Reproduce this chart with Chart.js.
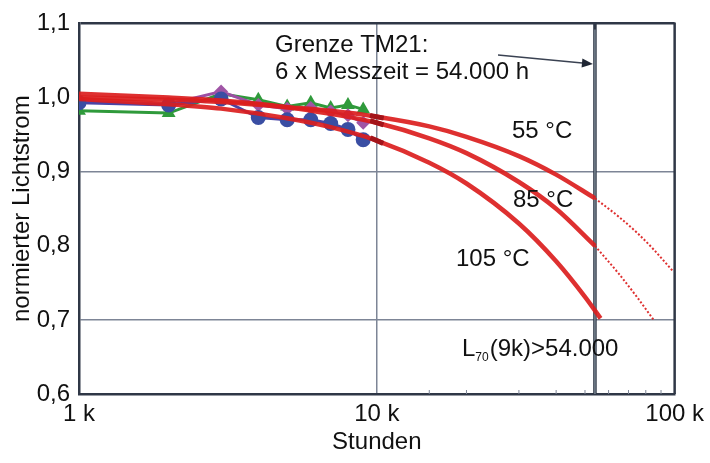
<!DOCTYPE html>
<html><head><meta charset="utf-8">
<script src="https://cdn.jsdelivr.net/npm/chart.js@4"></script>
<style>html,body{margin:0;padding:0;background:#fff}#wrap{width:710px;height:463px;position:relative}canvas{display:block}</style>
</head><body><div id="wrap"><canvas id="c" width="710" height="463"></canvas></div>
<script>
// Measured relative luminous flux (normalised) over operating hours
const hours = [1000, 2000, 3000, 4000, 5000, 6000, 7000, 8000, 9000];
const blueValues   = [0.993, 0.990, 0.998, 0.973, 0.970, 0.970, 0.965, 0.957, 0.943];
const greenValues  = [0.982, 0.979, 1.005, 0.997, 0.988, 0.993, 0.986, 0.990, 0.984];
const purpleValues = [0.995, 0.991, 1.008, 0.990, 0.985, 0.986, 0.981, 0.976, 0.966];

// TM-21 projections (solid = within 6x test time, dotted = beyond)
const fitHours    = [1000, 2000, 3000, 5000, 7000, 10000, 15000, 20000, 30000, 40000, 54000];
const fit55       = [1.000, 0.997, 0.994, 0.987, 0.982, 0.974, 0.961, 0.947, 0.921, 0.896, 0.864];
const fit85       = [1.005, 1.000, 0.996, 0.987, 0.978, 0.966, 0.945, 0.925, 0.886, 0.850, 0.800];
const fit105Hours = [1000, 2000, 3000, 5000, 7000, 10000, 15000, 20000, 30000, 40000, 50000, 56400];
const fit105      = [0.998, 0.991, 0.985, 0.972, 0.960, 0.942, 0.912, 0.884, 0.830, 0.779, 0.731, 0.702];
const ext55Hours  = [54000, 65000, 75000, 85000, 98500];
const ext55       = [0.864, 0.839, 0.817, 0.795, 0.766];
const ext85Hours  = [54000, 65000, 75000, 85000];
const ext85       = [0.800, 0.762, 0.730, 0.700];
const markHours   = [10000, 10000, 10000];
const markValues  = [0.974, 0.966, 0.942];

const xTickLabels = {1000: '1 k', 10000: '10 k', 100000: '100 k'};
const yTicks = [0.6, 0.7, 0.8, 0.9, 1.0, 1.1];
const measureLimit = 54000;

const pts = (xs, ys) => xs.map((x, i) => ({x, y: ys[i]}));
const FONT = '"Liberation Sans", Arial, sans-serif';
const RED = 'rgba(219,30,30,0.92)';
const DARK = '#2f3746';
const GRID = '#7d8596';

Chart.defaults.font.family = FONT;
Chart.defaults.color = '#111';

const near = (a, b) => Math.abs(a - b) < 1e-6;

const extras = {
  id: 'extras',
  beforeDatasetsDraw(chart) {
    const {ctx, chartArea: a, scales: {x}} = chart;
    ctx.save();
    // minor tick marks in the upper decade
    ctx.strokeStyle = GRID; ctx.lineWidth = 1;
    x.ticks.forEach(t => {
      if (t.value > 10000 && t.value < 100000) {
        const px = x.getPixelForValue(t.value);
        ctx.beginPath(); ctx.moveTo(px, a.bottom); ctx.lineTo(px, a.bottom - 4); ctx.stroke();
      }
    });
    // right frame edge
    const rx = x.getPixelForValue(100000);
    ctx.strokeStyle = DARK; ctx.lineWidth = 2.5;
    ctx.beginPath(); ctx.moveTo(rx, a.top - 1); ctx.lineTo(rx, a.bottom); ctx.stroke();
    // TM21 limit line
    const lx = x.getPixelForValue(measureLimit);
    ctx.strokeStyle = DARK; ctx.lineWidth = 3.5;
    ctx.beginPath(); ctx.moveTo(lx, a.top - 1); ctx.lineTo(lx, a.bottom); ctx.stroke();
    ctx.strokeStyle = '#8a97a2'; ctx.lineWidth = 1.2;
    ctx.beginPath(); ctx.moveTo(lx, a.top + 6); ctx.lineTo(lx, a.bottom); ctx.stroke();
    ctx.restore();
  },
  afterDraw(chart) {
    const {ctx, scales: {x}} = chart;
    ctx.save();
    ctx.fillStyle = '#111';
    ctx.textBaseline = 'alphabetic';
    ctx.font = '24px ' + FONT;
    ctx.fillText('Grenze TM21:', 275, 52);
    ctx.fillText('6 x Messzeit = 54.000 h', 275, 79);
    ctx.fillText('55 °C', 512, 138);
    ctx.fillText('85 °C', 513, 207);
    ctx.fillText('105 °C', 456, 266);
    // L70 label with subscript
    let px = 462;
    ctx.fillText('L', px, 356); px += ctx.measureText('L').width;
    ctx.font = '12px ' + FONT;
    ctx.fillText('70', px, 361); px += ctx.measureText('70').width + 1;
    ctx.font = '24px ' + FONT;
    ctx.fillText('(9k)>54.000', px, 356);
    // arrow pointing to the limit line
    const ex = x.getPixelForValue(measureLimit) - 2, ey = 64, sx = 498, sy = 55;
    ctx.strokeStyle = '#3a4252'; ctx.fillStyle = '#1f2633'; ctx.lineWidth = 1.5;
    ctx.beginPath(); ctx.moveTo(sx, sy); ctx.lineTo(ex - 8, ey - 0.8); ctx.stroke();
    const ang = Math.atan2(ey - sy, ex - sx);
    ctx.beginPath();
    ctx.moveTo(ex, ey);
    ctx.lineTo(ex - 11 * Math.cos(ang) + 4.5 * Math.sin(ang), ey - 11 * Math.sin(ang) - 4.5 * Math.cos(ang));
    ctx.lineTo(ex - 11 * Math.cos(ang) - 4.5 * Math.sin(ang), ey - 11 * Math.sin(ang) + 4.5 * Math.cos(ang));
    ctx.closePath(); ctx.fill();
    ctx.restore();
  }
};

const measured = (data, color, lineColor, style, radius) => ({
  data, borderColor: lineColor, backgroundColor: color, borderWidth: 3,
  pointStyle: style, pointRadius: radius, pointBorderWidth: 0, pointBackgroundColor: color,
  order: 3, tension: 0
});
const fit = (data, dashed) => ({
  data, borderColor: RED, borderWidth: dashed ? 2 : 4.5, borderDash: dashed ? [2, 2] : [],
  pointRadius: 0, cubicInterpolationMode: 'monotone', order: 1
});

new Chart(document.getElementById('c'), {
  type: 'line',
  data: {
    datasets: [
      measured(pts(hours, blueValues), '#3a4ea3', '#4a44a6', 'circle', 7.5),
      measured(pts(hours, purpleValues), '#a055a6', '#9c4fa3', 'rectRot', 7),
      measured(pts(hours, greenValues), '#2f9a3b', '#2f9a3b', 'triangle', 8),
      fit(pts(fitHours, fit55), false),
      fit(pts(fitHours, fit85), false),
      fit(pts(fit105Hours, fit105), false),
      fit(pts(ext55Hours, ext55), true),
      fit(pts(ext85Hours, ext85), true),
      {
        data: pts(markHours, markValues), showLine: false, order: 0,
        pointStyle: 'line', pointRadius: 7, pointBorderWidth: 5,
        pointBorderColor: '#a3141a', pointRotation: [11, 17, 24]
      }
    ]
  },
  options: {
    responsive: false, animation: false, devicePixelRatio: 1,
    layout: {padding: {top: 21, right: 35, left: 0, bottom: 0}},
    plugins: {legend: {display: false}, tooltip: {enabled: false}},
    scales: {
      x: {
        type: 'logarithmic', min: 1000, max: 100000,
        afterFit: s => { s.height = 69; },
        border: {color: DARK, width: 2.5},
        grid: {
          drawTicks: false,
          color: c => near(c.tick.value, 10000) ? GRID : 'rgba(0,0,0,0)',
          lineWidth: 1.5
        },
        ticks: {
          autoSkip: false, maxRotation: 0, padding: 6,
          font: {size: 24},
          callback: v => xTickLabels[v] || ''
        },
        title: {display: true, text: 'Stunden', font: {size: 24}, padding: {top: 0, bottom: 6}}
      },
      y: {
        min: 0.6, max: 1.1,
        afterFit: s => { s.width = 79; },
        afterBuildTicks: s => { s.ticks = yTicks.map(v => ({value: v})); },
        border: {color: DARK, width: 2.5},
        grid: {
          drawTicks: false,
          color: c => (near(c.tick.value, 0.9) || near(c.tick.value, 0.7)) ? GRID : near(c.tick.value, 1.1) ? DARK : 'rgba(0,0,0,0)',
          lineWidth: c => near(c.tick.value, 1.1) ? 2.5 : 1.5
        },
        ticks: {
          padding: 9, font: {size: 24},
          callback: v => v.toFixed(1).replace('.', ',')
        },
        title: {display: true, text: 'normierter Lichtstrom', font: {size: 24}, padding: {top: 8, bottom: 0}}
      }
    }
  },
  plugins: [extras]
});
</script></body></html>
